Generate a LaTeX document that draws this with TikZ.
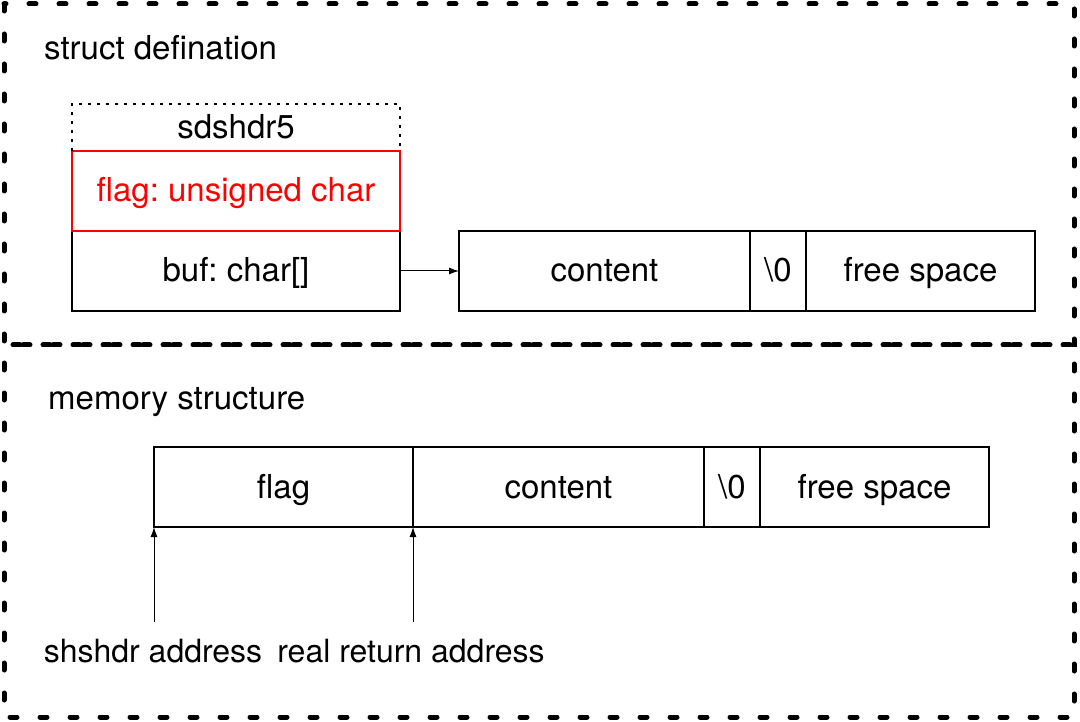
\documentclass[tikz,border=0pt]{standalone}
\usepackage{fontspec}
\setmainfont{TeX Gyre Heros}
\usetikzlibrary{arrows,arrows.meta}
\usetikzlibrary{positioning}
\frenchspacing

\begin{document}
\begin{tikzpicture}[x=1pt,y=-1pt,
    font=\fontsize{33}{39}\selectfont,
    region/.style={line width=5pt, line cap=round, dash pattern=on 7pt off 23pt},
    cell/.style={draw, line width=1.5pt, inner sep=0pt, outer sep=0pt,
        minimum height=80pt, text height=26pt, text depth=4pt},
    heading/.style={inner sep=0pt, anchor=west},
    addr/.style={inner sep=0pt, font=\fontsize{32}{38}\selectfont},
    ptr/.style={-{Latex[length=10pt,width=7pt]}, line width=1pt}]
\useasboundingbox (0,0) rectangle (1080,722);
\draw [region] (4,4) rectangle (1074,345);
\draw [region, dash phase=12pt] (4,345) rectangle (1074,717);

% struct defination
\node (t1) [heading] at (44,48) {struct defination};
\node (buf) [cell, minimum width=328pt, anchor=north west] at (72,231) {buf: char[]};
\node (flag) [cell, draw=red, text=red, minimum width=328pt, above=0pt of buf] {flag: unsigned char};
\node (hdr) [cell, draw=none, minimum width=328pt, minimum height=47pt, above=0pt of flag] {sdshdr5};
\draw [line width=2pt, dash pattern=on 3pt off 6pt] (hdr.south west) -- (hdr.north west) -- (hdr.north east) -- (hdr.south east);
\node (c1) [cell, minimum width=291pt, anchor=north west] at (459,231) {content};
\node (z1) [cell, minimum width=56pt, right=0pt of c1] {\textbackslash0};
\node (f1) [cell, minimum width=229pt, right=0pt of z1] {free space};
\draw [ptr] (buf) -- (c1);

% memory structure
\node (t2) [heading] at (48,402) {memory structure};
\node (m1) [cell, minimum width=259pt, anchor=north west] at (154,447) {flag};
\node (m2) [cell, minimum width=291pt, right=0pt of m1] {content};
\node (m3) [cell, minimum width=56pt, right=0pt of m2] {\textbackslash0};
\node (m4) [cell, minimum width=229pt, right=0pt of m3] {free space};
\node (a1) [addr] at (153,651) {shshdr address};
\node (a2) [addr] at (411,651) {real return address};
\coordinate (s1) at (154,622);
\coordinate (s2) at (413,622);
\draw [ptr] (s1) -- (m1.south west);
\draw [ptr] (s2) -- (m1.south east);
\end{tikzpicture}
\end{document}
